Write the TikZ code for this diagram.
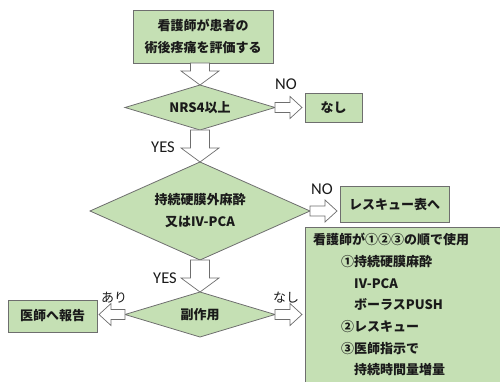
\documentclass[tikz,border=0pt]{standalone}
\usepackage{fontspec}
\setmainfont{Carlito}
\newfontfamily\jp{Noto Sans CJK JP}
\usetikzlibrary{shapes.geometric,calc}
\definecolor{boxgreen}{HTML}{C5E0B4}
\definecolor{edgegray}{HTML}{6E6E6E}
\definecolor{txt}{HTML}{1A1A1A}
\tikzset{
  greenbox/.style={draw=edgegray, fill=boxgreen, line width=0.8pt, inner sep=0pt, outer sep=0pt,
    text=txt, font=\jp\bfseries\fontsize{13}{22}\selectfont, align=center},
  dia/.style={greenbox, shape=diamond},
  blk/.style={draw=edgegray, fill=white, line width=0.7pt, line join=miter},
  lbl/.style={text=txt, font=\fontsize{16.5}{18}\selectfont, inner sep=0pt},
  jlbl/.style={text=txt, font=\jp\fontsize{13}{16}\selectfont, inner sep=0pt},
}
\newcommand\arrD[2]{\draw[blk] let \p1=(#1), \p2=(#2) in
  (\x2-9.5pt,\y1) -- (\x2+9.5pt,\y1) -- (\x2+9.5pt,\y2+14pt) -- (\x2+19pt,\y2+14pt)
  -- (\x2,\y2) -- (\x2-19pt,\y2+14pt) -- (\x2-9.5pt,\y2+14pt) -- cycle;}
\newcommand\arrR[2]{\draw[blk] let \p1=(#1), \p2=(#2) in
  (\x1,\y1+5pt) -- (\x2-12pt,\y1+5pt) -- (\x2-12pt,\y1+11pt) -- (\x2,\y1)
  -- (\x2-12pt,\y1-11pt) -- (\x2-12pt,\y1-5pt) -- (\x1,\y1-5pt) -- cycle;}
\newcommand\arrL[2]{\draw[blk] let \p1=(#1), \p2=(#2) in
  (\x1,\y1+5pt) -- (\x2+12pt,\y1+5pt) -- (\x2+12pt,\y1+11pt) -- (\x2,\y1)
  -- (\x2+12pt,\y1-11pt) -- (\x2+12pt,\y1-5pt) -- (\x1,\y1-5pt) -- cycle;}
\begin{document}
\begin{tikzpicture}[x=1pt,y=-1pt]
\useasboundingbox (0,0) rectangle (500,382);
% nodes
\node[greenbox, minimum width=140pt, minimum height=53pt] (start) at (203,36.5)
  {看護師が患者の\\術後疼痛を評価する};
\node[dia, minimum width=150pt, minimum height=45pt, aspect=3.33] (d1) at (200,107.5) {NRS4以上};
\node[greenbox, minimum width=57pt, minimum height=29pt] (none1) at (333.5,107.5) {なし};
\node[dia, minimum width=220pt, minimum height=98pt, aspect=2.24] (d2) at (200,211) {持続硬膜外麻酔\\又はIV-PCA};
\node[greenbox, minimum width=109pt, minimum height=36pt] (rescue) at (394.5,204.5) {レスキュー表へ};
\node[dia, minimum width=150pt, minimum height=45pt, aspect=3.33] (d3) at (200,314.5) {副作用};
\node[greenbox, minimum width=89pt, minimum height=32pt] (report) at (52.5,316) {医師へ報告};
% large box (runs off the right and bottom edges)
\draw[draw=edgegray, fill=boxgreen, line width=0.8pt] (305,227) rectangle (512,396);
\node[anchor=north west, align=left, text=txt, inner sep=0pt,
  font=\jp\bfseries\fontsize{13}{21.7}\selectfont] (list) at (313,233)
  {看護師が①②③の順で使用\\
   \hspace*{28pt}①持続硬膜麻酔\\
   \hspace*{41pt}IV-PCA\\
   \hspace*{41pt}ボーラスPUSH\\
   \hspace*{28pt}②レスキュー\\
   \hspace*{28pt}③医師指示で\\
   \hspace*{41pt}持続時間量増量};
% connectors
\arrD{start.south}{d1.north}
\arrD{d1.south}{d2.north}
\arrD{d2.south}{d3.north}
\coordinate (t1) at ([xshift=-3pt]none1.west);
\arrR{d1.east}{t1}
\coordinate (t2) at ([xshift=-3pt]rescue.west);
\arrR{d2.east}{t2}
\coordinate (t3) at (302,314.5);
\arrR{d3.east}{t3}
\coordinate (t4) at ([xshift=2pt]report.east);
\arrL{d3.west}{t4}
% labels
\node[lbl] (no1) at (286,84) {NO};
\node[lbl] (yes1) at (163,147) {YES};
\node[lbl] (no2) at (322,189) {NO};
\node[lbl] (yes2) at (165,278) {YES};
\node[jlbl] (ari) at (114,298) {あり};
\node[jlbl] (nashi) at (286,298) {なし};
\end{tikzpicture}
\end{document}
